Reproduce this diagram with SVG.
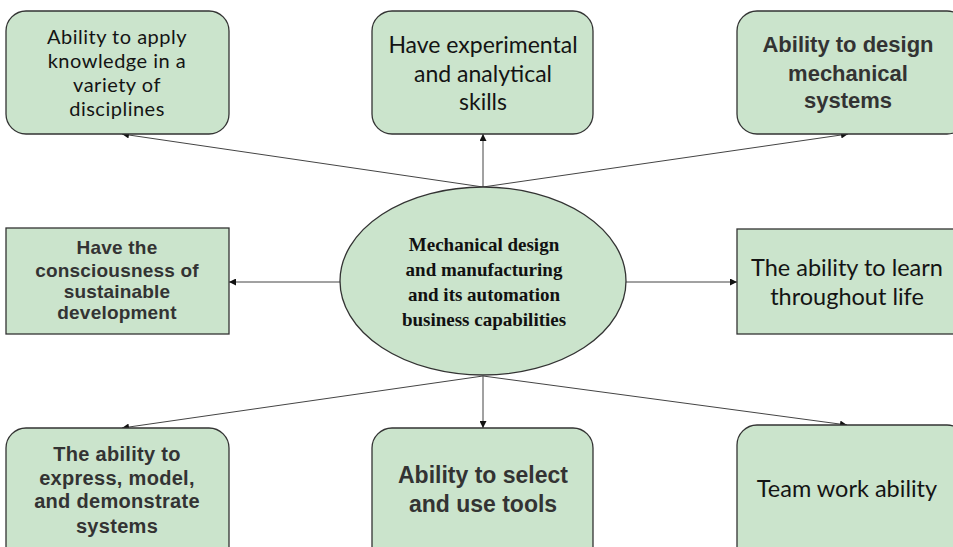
<svg xmlns="http://www.w3.org/2000/svg" width="953" height="547" viewBox="0 0 953 547">
  <defs>
    <marker id="arrow" viewBox="0 0 10 10" refX="10" refY="5" markerWidth="7" markerHeight="7" markerUnits="userSpaceOnUse" orient="auto">
      <path d="M0,0 L10,5 L0,10 z" fill="#111"/>
    </marker>
    <style>
      .box { fill: #cbe4cc; stroke: #333; stroke-width: 1.3; }
      .conn { stroke: #444; stroke-width: 1; fill: none; marker-end: url(#arrow); }
      .sans { font-family: Lato, "Noto Sans", sans-serif; fill: #141414; text-anchor: middle; }
      .arial { font-family: "Liberation Sans", Arial, sans-serif; font-weight: bold; fill: #333; text-anchor: middle; }
      .serif { font-family: "Liberation Serif", "Times New Roman", serif; font-weight: bold; font-size: 19px; fill: #111; text-anchor: middle; }
    </style>
  </defs>

  <g id="connectors">
    <line class="conn" x1="483" y1="187" x2="122" y2="134"/>
    <line class="conn" x1="483" y1="187" x2="483" y2="134"/>
    <line class="conn" x1="483" y1="187" x2="848" y2="134"/>
    <line class="conn" x1="341" y1="282" x2="229" y2="282"/>
    <line class="conn" x1="626" y1="282" x2="737" y2="282"/>
    <line class="conn" x1="483" y1="376" x2="122" y2="428"/>
    <line class="conn" x1="483" y1="376" x2="483" y2="428"/>
    <line class="conn" x1="483" y1="376" x2="847" y2="425"/>
  </g>

  <g id="center">
    <ellipse class="box" cx="483" cy="281" rx="143" ry="94"/>
    <text class="serif" x="484" y="251">Mechanical design</text>
    <text class="serif" x="484" y="276">and manufacturing</text>
    <text class="serif" x="484" y="301">and its automation</text>
    <text class="serif" x="484" y="326">business capabilities</text>
  </g>

  <g id="apply-knowledge">
    <rect class="box" x="6" y="11" width="223" height="123" rx="20"/>
    <text class="sans" x="117" y="44" font-size="20" letter-spacing="0.5">Ability to apply</text>
    <text class="sans" x="117" y="68" font-size="20" letter-spacing="0.5">knowledge in a</text>
    <text class="sans" x="117" y="92" font-size="20" letter-spacing="0.5">variety of</text>
    <text class="sans" x="117" y="116" font-size="20" letter-spacing="0.5">disciplines</text>
  </g>

  <g id="experimental-skills">
    <rect class="box" x="372" y="11" width="221" height="123" rx="20"/>
    <text class="sans" x="483" y="53" font-size="23">Have experimental</text>
    <text class="sans" x="483" y="82" font-size="23">and analytical</text>
    <text class="sans" x="483" y="110" font-size="23">skills</text>
  </g>

  <g id="design-systems">
    <rect class="box" x="737" y="11" width="230" height="123" rx="20"/>
    <text class="arial" x="848" y="52" font-size="22">Ability to design</text>
    <text class="arial" x="848" y="81" font-size="22">mechanical</text>
    <text class="arial" x="848" y="108" font-size="22">systems</text>
  </g>

  <g id="sustainable">
    <rect class="box" x="6" y="228" width="223" height="106"/>
    <text class="arial" x="117" y="254" font-size="19" letter-spacing="0.2">Have the</text>
    <text class="arial" x="117" y="277" font-size="19" letter-spacing="0.2">consciousness of</text>
    <text class="arial" x="117" y="298" font-size="19" letter-spacing="0.2">sustainable</text>
    <text class="arial" x="117" y="319" font-size="19" letter-spacing="0.2">development</text>
  </g>

  <g id="lifelong-learning">
    <rect class="box" x="737" y="229" width="230" height="105"/>
    <text class="sans" x="847" y="276" font-size="23.5">The ability to learn</text>
    <text class="sans" x="847" y="305" font-size="23.5">throughout life</text>
  </g>

  <g id="express-model">
    <rect class="box" x="6" y="428" width="223" height="140" rx="20"/>
    <text class="arial" x="117" y="461" font-size="20" letter-spacing="0.3">The ability to</text>
    <text class="arial" x="117" y="485" font-size="20" letter-spacing="0.3">express, model,</text>
    <text class="arial" x="117" y="508" font-size="20" letter-spacing="0.3">and demonstrate</text>
    <text class="arial" x="117" y="533" font-size="20" letter-spacing="0.3">systems</text>
  </g>

  <g id="select-tools">
    <rect class="box" x="372" y="428" width="221" height="140" rx="20"/>
    <text class="arial" x="483" y="483" font-size="23">Ability to select</text>
    <text class="arial" x="483" y="512" font-size="23">and use tools</text>
  </g>

  <g id="teamwork">
    <rect class="box" x="737" y="425" width="230" height="143" rx="20"/>
    <text class="sans" x="847" y="497" font-size="23.5">Team work ability</text>
  </g>
</svg>
